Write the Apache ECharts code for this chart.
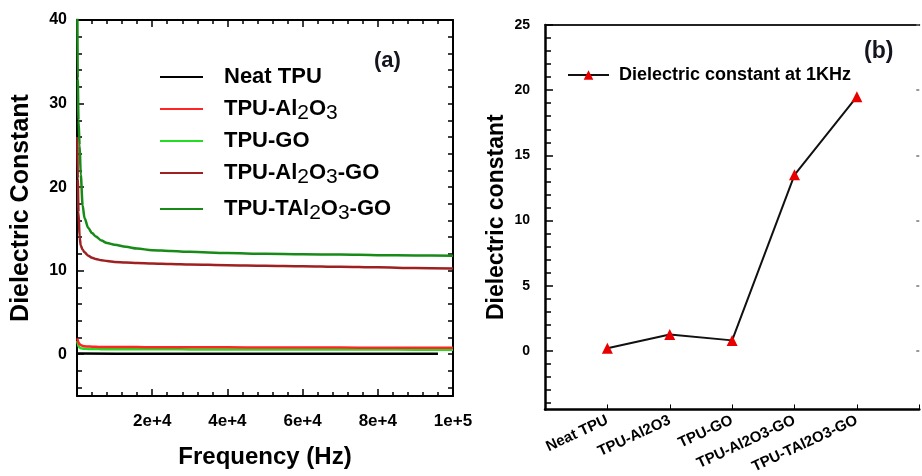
<!DOCTYPE html>
<html>
<head>
<meta charset="utf-8">
<title>Dielectric constant</title>
<script src="https://cdn.jsdelivr.net/npm/echarts@6/dist/echarts.min.js"></script>
<style>
    html, body { margin: 0; padding: 0; background: #fff; }
    #chart { width: 922px; height: 476px; }
</style>
</head>
<body>
<div id="chart"></div>
<script>
// (a) dielectric constant vs frequency
var freq = [100, 200, 400, 700, 1000, 1500, 2000, 3000, 4000, 5000, 6500, 8000, 10000, 13000, 16000, 20000, 25000, 30000, 40000, 50000, 60000, 70000, 80000, 90000, 100000];
var neatFreq = [100, 1000, 20000, 50000, 96000];
var neatTpu = [0.1, 0.08, 0.06, 0.05, 0.05];
var tpuAl2o3 = [1.9, 1.7, 1.4, 1.2, 1.1, 1.0, 0.95, 0.92, 0.9, 0.88, 0.87, 0.86, 0.86, 0.85, 0.85, 0.84, 0.83, 0.83, 0.82, 0.81, 0.8, 0.79, 0.78, 0.77, 0.76];
var tpuGo = [1.6, 1.2, 0.95, 0.8, 0.72, 0.68, 0.65, 0.63, 0.62, 0.62, 0.61, 0.61, 0.6, 0.6, 0.6, 0.59, 0.59, 0.58, 0.58, 0.57, 0.57, 0.56, 0.56, 0.55, 0.55];
var tpuAl2o3Go = [26, 21, 17, 14, 13.0, 12.5, 12.2, 11.8, 11.55, 11.4, 11.25, 11.15, 11.05, 10.98, 10.92, 10.86, 10.8, 10.74, 10.66, 10.6, 10.54, 10.47, 10.4, 10.32, 10.26];
var tpuTal2o3Go = [41, 33, 28, 25, 21.5, 17.8, 16.3, 15.1, 14.5, 14.1, 13.6, 13.3, 13.1, 12.85, 12.65, 12.45, 12.35, 12.25, 12.1, 12.02, 11.97, 11.92, 11.86, 11.83, 11.8];
var seriesNamesA = ['Neat TPU', 'TPU-Al2O3', 'TPU-GO', 'TPU-Al2O3-GO', 'TPU-TAl2O3-GO'];
var yLabelsA = [0, 10, 20, 30, 40];

// (b) dielectric constant at 1 kHz
var samples = ['Neat TPU', 'TPU-Al2O3', 'TPU-GO', 'TPU-Al2O3-GO', 'TPU-TAl2O3-GO'];
var at1kHz = [0.2, 1.25, 0.8, 13.5, 19.5];
var yLabelsB = [0, 5, 10, 15, 20, 25];

var font = "'Liberation Sans', Arial, sans-serif";

function pairs(xs, ys) {
    var out = [];
    for (var i = 0; i < ys.length; i++) out.push([xs[i], ys[i]]);
    return out;
}
function range(from, to, step) {
    var out = [];
    for (var v = from; v <= to + 1e-9; v += step) out.push(Math.round(v * 100) / 100);
    return out;
}
// subscript digits in the legend of (a)
function subName(name) {
    return '{n|' + name.replace(/(\d)/g, '}{s|$1}{n|') + '}';
}

var minorA = range(-4, 40, 2);
var minorB = range(-4, 25, 1);

var chart = echarts.init(document.getElementById('chart'));

var lineA = function (name, xs, ys, color, z) {
    return {
        name: name, type: 'line', xAxisIndex: 0, yAxisIndex: 0,
        data: pairs(xs, ys), showSymbol: false, symbol: 'none',
        smooth: 0.3, smoothMonotone: 'x', z: z,
        itemStyle: {color: color},
        lineStyle: {color: color, width: 2.5}
    };
};

var option = {
    animation: false,
    backgroundColor: '#fff',
    textStyle: {fontFamily: font},
    grid: [
        {left: 77, top: 20, width: 376, height: 376},
        {left: 545, top: 25, width: 385, height: 385}
    ],
    legend: [
        {
            orient: 'vertical', left: 160, top: 66, itemGap: 6, padding: 0,
            itemWidth: 43, itemHeight: 2, icon: 'rect', selectedMode: false,
            data: seriesNamesA,
            formatter: subName,
            textStyle: {
                padding: [0, 0, 0, 16],
                rich: {
                    n: {fontFamily: font, fontSize: 22, fontWeight: 'bold', color: '#000', lineHeight: 24},
                    s: {fontFamily: font, fontSize: 21, color: '#000', lineHeight: 24, padding: [9, 0, 0, 0]}
                }
            }
        },
        {
            left: 567, top: 65, itemWidth: 41, itemHeight: 12, selectedMode: false, padding: 0,
            data: ['Dielectric constant at 1KHz'],
            textStyle: {fontFamily: font, fontSize: 18, fontWeight: 'bold', color: '#000', lineHeight: 20, padding: [0, 0, 0, 5]}
        }
    ],
    xAxis: [
        {
            gridIndex: 0, type: 'value', min: 0, max: 100000, interval: 20000,
            name: 'Frequency (Hz)', nameLocation: 'middle', nameGap: 49,
            nameTextStyle: {fontFamily: font, fontSize: 24, fontWeight: 'bold', color: '#000'},
            axisLine: {onZero: false, lineStyle: {color: '#000', width: 2}},
            axisTick: {inside: true, length: 7, lineStyle: {color: '#000', width: 1.5}},
            minorTick: {show: true, splitNumber: 5, length: 4, lineStyle: {color: '#000', width: 1.5}},
            axisLabel: {
                margin: 17, fontFamily: font, fontSize: 17, fontWeight: 'bold', color: '#000',
                formatter: function (v) { return v === 0 ? '' : (v >= 100000 ? '1e+5' : (v / 10000) + 'e+4'); }
            },
            splitLine: {show: false}
        },
        {
            gridIndex: 0, type: 'value', position: 'top', min: 0, max: 100000, interval: 20000,
            axisLine: {onZero: false, lineStyle: {color: '#000', width: 2}},
            axisTick: {inside: true, length: 7, lineStyle: {color: '#000', width: 1.5}},
            minorTick: {show: true, splitNumber: 5, length: 4, lineStyle: {color: '#000', width: 1.5}},
            axisLabel: {show: false},
            splitLine: {show: false}
        },
        {
            gridIndex: 1, type: 'value', min: 0, max: 6, interval: 1,
            axisLine: {onZero: false, lineStyle: {color: '#000', width: 2.5}},
            axisTick: {inside: true, length: 5, lineStyle: {color: '#000', width: 1}},
            axisLabel: {
                rotate: 25, margin: 10, fontFamily: font, fontSize: 15, fontWeight: 'bold', color: '#000',
                formatter: function (v) { return samples[v - 1] || ''; }
            },
            splitLine: {show: false}
        },
        {
            gridIndex: 1, type: 'value', position: 'top', min: 0, max: 6,
            axisLine: {onZero: false, lineStyle: {color: '#222', width: 2}},
            axisTick: {show: false}, axisLabel: {show: false}, splitLine: {show: false}
        }
    ],
    yAxis: [
        {
            gridIndex: 0, type: 'value', position: 'left', min: -5, max: 40,
            name: 'Dielectric Constant', nameLocation: 'middle', nameGap: 43,
            nameTextStyle: {fontFamily: font, fontSize: 25, fontWeight: 'bold', color: '#000'},
            axisLine: {onZero: false, lineStyle: {color: '#000', width: 2}},
            axisTick: {inside: true, length: 7, customValues: yLabelsA, lineStyle: {color: '#000', width: 1.5}},
            axisLabel: {customValues: yLabelsA, margin: 10, fontFamily: font, fontSize: 16, fontWeight: 'bold', color: '#000'},
            splitLine: {show: false}
        },
        {
            gridIndex: 0, type: 'value', position: 'left', min: -5, max: 40,
            axisLine: {show: false, onZero: false},
            axisTick: {inside: true, length: 5, customValues: minorA, lineStyle: {color: '#000', width: 1.5}},
            axisLabel: {show: false}, splitLine: {show: false}
        },
        {
            gridIndex: 0, type: 'value', position: 'right', min: -5, max: 40,
            axisLine: {onZero: false, lineStyle: {color: '#000', width: 2}},
            axisTick: {inside: true, length: 5, customValues: minorA, lineStyle: {color: '#000', width: 1.5}},
            axisLabel: {show: false}, splitLine: {show: false}
        },
        {
            gridIndex: 1, type: 'value', position: 'left', min: -4.5, max: 25,
            name: 'Dielectric constant', nameLocation: 'middle', nameGap: 37,
            nameTextStyle: {fontFamily: font, fontSize: 23, fontWeight: 'bold', color: '#000'},
            axisLine: {onZero: false, lineStyle: {color: '#000', width: 2.5}},
            axisTick: {inside: true, length: 8, customValues: yLabelsB, lineStyle: {color: '#000', width: 1.5}},
            axisLabel: {customValues: yLabelsB, margin: 15, fontFamily: font, fontSize: 14, fontWeight: 'bold', color: '#000'},
            splitLine: {show: false}
        },
        {
            gridIndex: 1, type: 'value', position: 'left', min: -4.5, max: 25,
            axisLine: {show: false, onZero: false},
            axisTick: {inside: true, length: 6, customValues: minorB, lineStyle: {color: '#000', width: 1.5}},
            axisLabel: {show: false}, splitLine: {show: false}
        },
        {
            gridIndex: 1, type: 'value', position: 'right', min: -4.5, max: 25,
            axisLine: {show: false, onZero: false},
            axisTick: {inside: true, length: 3, customValues: yLabelsB, lineStyle: {color: '#777', width: 1.5}},
            axisLabel: {show: false}, splitLine: {show: false}
        }
    ],
    graphic: [
        {type: 'text', left: 374, top: 50, style: {text: '(a)', font: 'bold 22px ' + font, fill: '#151520'}},
        {type: 'text', left: 864, top: 40, style: {text: '(b)', font: 'bold 23px ' + font, fill: '#151520'}}
    ],
    series: [
        lineA('Neat TPU', neatFreq, neatTpu, '#000000', 2),
        lineA('TPU-GO', freq, tpuGo, '#22dd22', 3),
        lineA('TPU-Al2O3', freq, tpuAl2o3, '#ff2525', 4),
        lineA('TPU-Al2O3-GO', freq, tpuAl2o3Go, '#9e2020', 5),
        lineA('TPU-TAl2O3-GO', freq, tpuTal2o3Go, '#178a17', 6),
        {
            name: 'Dielectric constant at 1KHz', type: 'line', xAxisIndex: 2, yAxisIndex: 3,
            data: pairs([1, 2, 3, 4, 5], at1kHz),
            symbol: 'triangle', symbolSize: 11,
            itemStyle: {color: '#e80000'},
            lineStyle: {color: '#111', width: 2}
        }
    ]
};
chart.setOption(option);
</script>
</body>
</html>
